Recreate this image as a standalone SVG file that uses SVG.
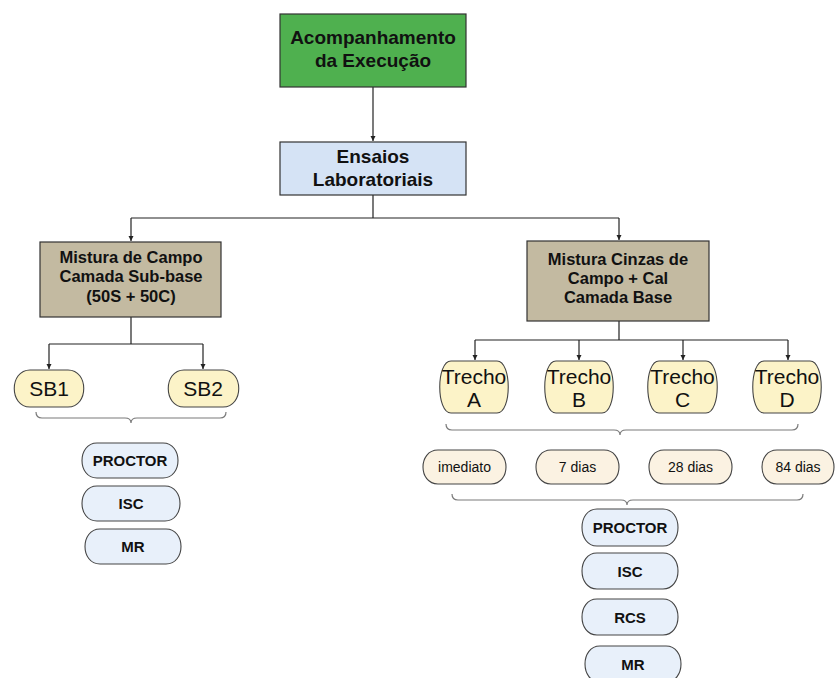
<svg xmlns="http://www.w3.org/2000/svg" width="836" height="678" viewBox="0 0 836 678">
  <defs>
    <marker id="arrow" viewBox="0 0 10 10" refX="10" refY="5" markerWidth="5" markerHeight="6" orient="auto" markerUnits="userSpaceOnUse">
      <path d="M0,0 L10,5 L0,10 Z" fill="#222"/>
    </marker>
    <style>
      .box { stroke: #333; stroke-width: 1.2; }
      .pill { stroke: #444; stroke-width: 1.1; }
      .title { font-family: "Liberation Sans", Arial, sans-serif; font-weight: bold; font-size: 19px; fill: #111; text-anchor: middle; }
      .mix { font-family: "Liberation Sans", Arial, sans-serif; font-weight: bold; font-size: 16.5px; fill: #111; text-anchor: middle; }
      .big { font-family: "Liberation Sans", Arial, sans-serif; font-size: 21px; fill: #111; text-anchor: middle; }
      .day { font-family: "Liberation Sans", Arial, sans-serif; font-size: 14px; fill: #111; text-anchor: middle; }
      .test { font-family: "Liberation Sans", Arial, sans-serif; font-weight: bold; font-size: 15px; fill: #111; text-anchor: middle; }
      .line { fill: none; stroke: #222; stroke-width: 1.2; }
      .brace { fill: none; stroke: #7a7a7a; stroke-width: 1.2; }
      .sample { fill: #fcf3c8; }
      .age { fill: #fbf2e2; }
      .lab { fill: #e8f0fa; }
    </style>
  </defs>

  <rect width="836" height="678" fill="#ffffff"/>

  <!-- connectors -->
  <g id="connectors">
    <path class="line" d="M373,87 V141" marker-end="url(#arrow)"/>
    <path class="line" d="M373,195 V218 M131,218 H619"/>
    <path class="line" d="M131,218 V241" marker-end="url(#arrow)"/>
    <path class="line" d="M619,218 V240" marker-end="url(#arrow)"/>
    <path class="line" d="M131,317 V344 M49,344 H203"/>
    <path class="line" d="M49,344 V369" marker-end="url(#arrow)"/>
    <path class="line" d="M203,344 V369" marker-end="url(#arrow)"/>
    <path class="line" d="M619,321 V340 M475,340 H788"/>
    <path class="line" d="M475,340 V360" marker-end="url(#arrow)"/>
    <path class="line" d="M579,340 V360" marker-end="url(#arrow)"/>
    <path class="line" d="M683,340 V360" marker-end="url(#arrow)"/>
    <path class="line" d="M788,340 V360" marker-end="url(#arrow)"/>
    <!-- grouping braces -->
    <path class="brace" d="M36,412 Q36,418 42,418 H125 Q131,418 131,423 Q131,418 137,418 H220 Q226,418 226,412"/>
    <path class="brace" d="M446,424 Q446,430 452,430 H614 Q620,430 620,435 Q620,430 626,430 H792 Q798,430 798,424"/>
    <path class="brace" d="M452,494 Q452,500 458,500 H621 Q627,500 627,505 Q627,500 633,500 H797 Q803,500 803,494"/>
  </g>

  <g id="acompanhamento">
    <rect class="box" x="280" y="14" width="186" height="73" fill="#4fb04f"/>
    <text class="title" x="373" y="44">Acompanhamento</text>
    <text class="title" x="373" y="67">da Execução</text>
  </g>

  <g id="ensaios">
    <rect class="box" x="280" y="142" width="186" height="53" fill="#d5e3f5"/>
    <text class="title" x="373" y="163">Ensaios</text>
    <text class="title" x="373" y="186">Laboratoriais</text>
  </g>

  <g id="mistura-subbase">
    <rect class="box" x="40" y="242" width="181" height="75" fill="#c3baa1"/>
    <text class="mix" x="131" y="263">Mistura de Campo</text>
    <text class="mix" x="131" y="282">Camada Sub-base</text>
    <text class="mix" x="131" y="302">(50S + 50C)</text>
  </g>

  <g id="mistura-base">
    <rect class="box" x="527" y="241" width="182" height="80" fill="#c3baa1"/>
    <text class="mix" x="618" y="265">Mistura Cinzas de</text>
    <text class="mix" x="618" y="284">Campo + Cal</text>
    <text class="mix" x="618" y="303">Camada Base</text>
  </g>

  <g id="sb1">
    <path class="pill sample" d="M30,370 H68 C89,370 89,407 68,407 H30 C9,407 9,370 30,370 Z"/>
    <text class="big" x="49" y="396" font-size="22">SB1</text>
  </g>
  <g id="sb2">
    <path class="pill sample" d="M184,370 H223 C244,370 244,407 223,407 H184 C163,407 163,370 184,370 Z"/>
    <text class="big" x="203" y="396" font-size="22">SB2</text>
  </g>

  <g id="trecho-a">
    <path class="pill sample" d="M451,361 H497 C512,361 512,413 497,413 H451 C436,413 436,361 451,361 Z"/>
    <text class="big" x="474" y="384">Trecho</text>
    <text class="big" x="474" y="407">A</text>
  </g>
  <g id="trecho-b">
    <path class="pill sample" d="M556,361 H602 C617,361 617,413 602,413 H556 C541,413 541,361 556,361 Z"/>
    <text class="big" x="579" y="384">Trecho</text>
    <text class="big" x="579" y="407">B</text>
  </g>
  <g id="trecho-c">
    <path class="pill sample" d="M659,361 H706 C721,361 721,413 706,413 H659 C644,413 644,361 659,361 Z"/>
    <text class="big" x="682.5" y="384">Trecho</text>
    <text class="big" x="682.5" y="407">C</text>
  </g>
  <g id="trecho-d">
    <path class="pill sample" d="M764,361 H810 C825,361 825,413 810,413 H764 C749,413 749,361 764,361 Z"/>
    <text class="big" x="787" y="384">Trecho</text>
    <text class="big" x="787" y="407">D</text>
  </g>

  <g id="imediato">
    <path class="pill age" d="M438,450 H491 C511,450 511,484 491,484 H438 C418,484 418,450 438,450 Z"/>
    <text class="day" x="464.5" y="472">imediato</text>
  </g>
  <g id="dias-7">
    <path class="pill age" d="M551,450 H604 C624,450 624,484 604,484 H551 C531,484 531,450 551,450 Z"/>
    <text class="day" x="577.5" y="472">7 dias</text>
  </g>
  <g id="dias-28">
    <path class="pill age" d="M664,450 H717 C737,450 737,484 717,484 H664 C644,484 644,450 664,450 Z"/>
    <text class="day" x="690.5" y="472">28 dias</text>
  </g>
  <g id="dias-84">
    <path class="pill age" d="M777,450 H819 C839,450 839,484 819,484 H777 C757,484 757,450 777,450 Z"/>
    <text class="day" x="798" y="472">84 dias</text>
  </g>

  <g id="sb-proctor">
    <path class="pill lab" d="M97,443 H163 C183,443 183,478 163,478 H97 C77,478 77,443 97,443 Z"/>
    <text class="test" x="130" y="466">PROCTOR</text>
  </g>
  <g id="sb-isc">
    <path class="pill lab" d="M97,486 H165 C185,486 185,521 165,521 H97 C77,521 77,486 97,486 Z"/>
    <text class="test" x="131" y="509">ISC</text>
  </g>
  <g id="sb-mr">
    <path class="pill lab" d="M100,529 H166 C186,529 186,564 166,564 H100 C80,564 80,529 100,529 Z"/>
    <text class="test" x="133" y="552">MR</text>
  </g>

  <g id="base-proctor">
    <path class="pill lab" d="M597,509 H663 C683,509 683,546 663,546 H597 C577,546 577,509 597,509 Z"/>
    <text class="test" x="630" y="533">PROCTOR</text>
  </g>
  <g id="base-isc">
    <path class="pill lab" d="M597,553 H663 C683,553 683,589 663,589 H597 C577,589 577,553 597,553 Z"/>
    <text class="test" x="630" y="576.5">ISC</text>
  </g>
  <g id="base-rcs">
    <path class="pill lab" d="M597,599 H663 C683,599 683,635 663,635 H597 C577,635 577,599 597,599 Z"/>
    <text class="test" x="630" y="622.5">RCS</text>
  </g>
  <g id="base-mr">
    <path class="pill lab" d="M600,646 H666 C686,646 686,682 666,682 H600 C580,682 580,646 600,646 Z"/>
    <text class="test" x="633" y="669.5">MR</text>
  </g>
</svg>
